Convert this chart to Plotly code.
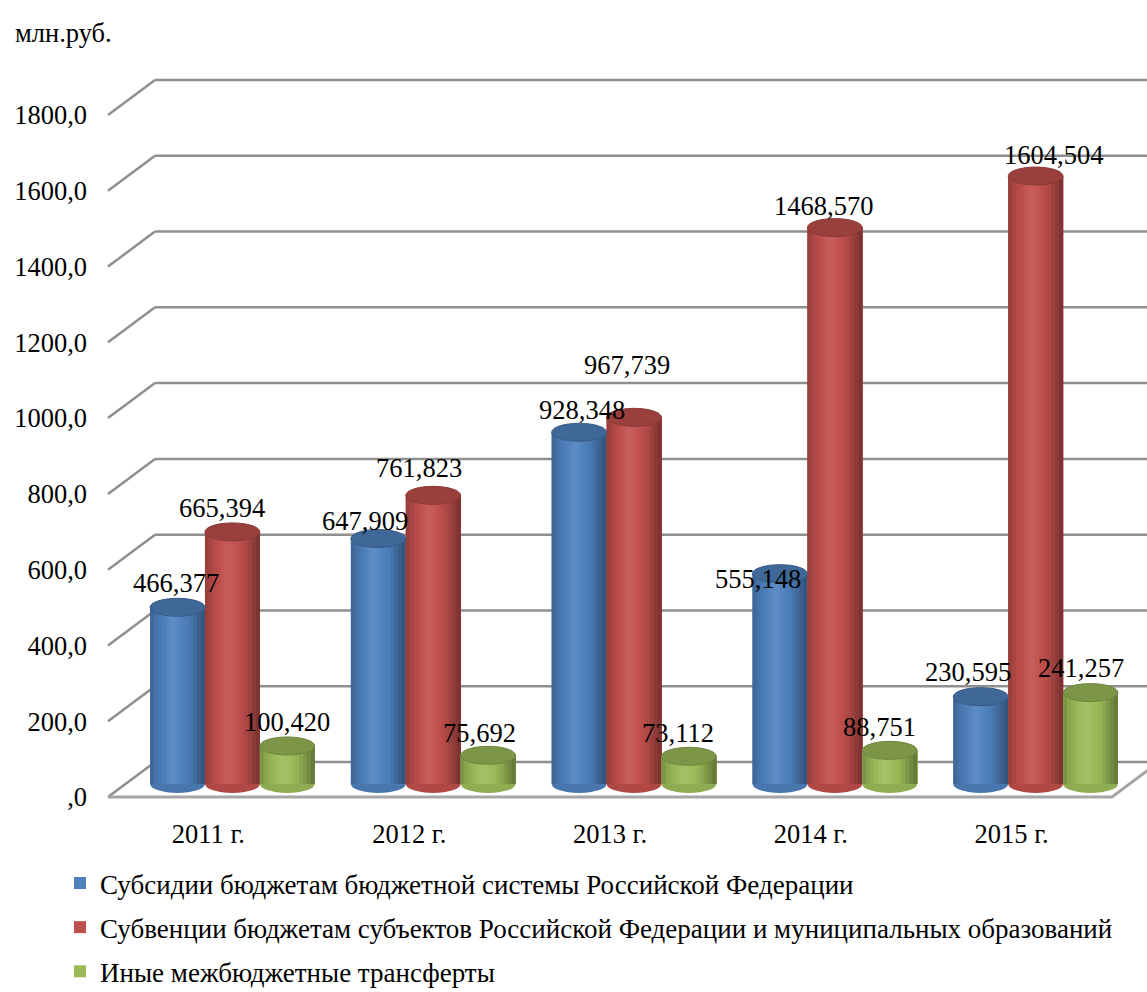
import plotly.graph_objects as go

# ---------------- data ----------------
years = ["2011 г.", "2012 г.", "2013 г.", "2014 г.", "2015 г."]
subsidies = [466.377, 647.909, 928.348, 555.148, 230.595]
subventions = [665.394, 761.823, 967.739, 1468.570, 1604.504]
other_transfers = [100.420, 75.692, 73.112, 88.751, 241.257]
series_names = [
    "Субсидии бюджетам бюджетной системы Российской Федерации",
    "Субвенции бюджетам субъектов Российской Федерации и муниципальных образований",
    "Иные межбюджетные трансферты",
]
y_tick_values = [0, 200, 400, 600, 800, 1000, 1200, 1400, 1600, 1800]
y_tick_labels = [",0", "200,0", "400,0", "600,0", "800,0", "1000,0",
                 "1200,0", "1400,0", "1600,0", "1800,0"]
unit_label = "млн.руб."

# ---------------- styles / geometry ----------------
series_values = [subsidies, subventions, other_transfers]
base_colors = [(79, 129, 189), (192, 80, 77), (155, 187, 89)]
FONT = "Liberation Serif, Times New Roman, serif"
FS = 26.5
FS_LEGEND = 27
W, H = 1147, 992
FRONT_X0, FRONT_X1 = 108, 1112
FRONT_Y0 = 797
PX_PER_UNIT = 682 / 1800
DEPTH_X, DEPTH_Y = 47, 35
BAR_X0, BAR_X1 = 132, 1136
BAR_Y0 = 784
Y_MIN, Y_MAX = -40, 1900
GRID_COLOR = "#8f8f8f"
BAR_GAP = 0.18
N_STRIPS = 14
ELL_H = 9

bar_w = (1 - BAR_GAP) / 3
series_offsets = [-bar_w, 0.0, bar_w]

# label shifts (pixels) per series, per year
label_dx = [[-2, -13, 3, -22, -13], [-10, -14, -7, -11, 18], [0, -9, -11, -10, -9]]
label_dy = [[24, 18, 22, -5, 25], [24, 27, 52, 22, 21], [24, 22, 23, 23, 25]]


def dom(y_zero_px):
    lo = (H - y_zero_px + Y_MIN * PX_PER_UNIT) / H
    hi = (H - y_zero_px + Y_MAX * PX_PER_UNIT) / H
    return [lo, hi]


def shade(rgb, f):
    if f >= 1:
        return "rgb(%d,%d,%d)" % tuple(min(255, int(c + (255 - c) * (f - 1))) for c in rgb)
    return "rgb(%d,%d,%d)" % tuple(int(c * f) for c in rgb)


def profile(t):
    pts = [(0.0, 0.76), (0.12, 0.9), (0.42, 1.1), (0.7, 0.95), (1.0, 0.62)]
    for (t0, f0), (t1, f1) in zip(pts[:-1], pts[1:]):
        if t0 <= t <= t1:
            return f0 + (f1 - f0) * (t - t0) / (t1 - t0)
    return 1.0


fig = go.Figure()

# cylinders: a legend bar per series plus shading strips on top of it
for s, (vals, name, rgb) in enumerate(zip(series_values, series_names, base_colors)):
    fig.add_trace(go.Bar(
        x=years, y=vals, name=name, xaxis="x2", yaxis="y2",
        width=bar_w, offset=series_offsets[s] - bar_w / 2,
        marker=dict(color=shade(rgb, 1.0), line=dict(width=0)),
        legendgroup="g%d" % s, hoverinfo="skip",
    ))
    sw = bar_w / N_STRIPS
    for j in range(N_STRIPS):
        t = (j + 0.5) / N_STRIPS
        # each strip runs to the right edge so that later strips cover it without gaps
        fig.add_trace(go.Bar(
            x=years, y=vals, xaxis="x2", yaxis="y2", showlegend=False,
            width=bar_w - j * sw, offset=series_offsets[s] - bar_w / 2 + j * sw,
            marker=dict(color=shade(rgb, profile(t)), line=dict(width=0)),
            legendgroup="g%d" % s, hoverinfo="skip",
        ))

shapes = []
# back wall grid lines + left diagonal edges (front axis y, pixel depth offsets)
for v in y_tick_values:
    shapes.append(dict(type="line", xref="paper", yref="y", ysizemode="pixel", yanchor=v,
                       x0=(FRONT_X0 + DEPTH_X) / W, x1=1.0, y0=DEPTH_Y, y1=DEPTH_Y,
                       line=dict(color=GRID_COLOR, width=2.5), layer="below"))
    shapes.append(dict(type="line", xref="paper", yref="y", ysizemode="pixel", yanchor=v,
                       x0=FRONT_X0 / W, x1=(FRONT_X0 + DEPTH_X) / W, y0=0, y1=DEPTH_Y,
                       line=dict(color=GRID_COLOR, width=2.5), layer="below"))
# floor front and right edges
shapes.append(dict(type="path", xref="paper", yref="y", ysizemode="pixel", yanchor=0,
                   path="M%f,0 L%f,0 L%f,%d" % (FRONT_X0 / W, FRONT_X1 / W,
                                               (FRONT_X1 + DEPTH_X) / W, DEPTH_Y),
                   line=dict(color="#a6a6a6", width=3), layer="below"))

# cylinder tops and bottoms
for s, (vals, rgb) in enumerate(zip(series_values, base_colors)):
    for i, v in enumerate(vals):
        cx = i + series_offsets[s]
        shapes.append(dict(type="circle", xref="x2", yref="y2", ysizemode="pixel", yanchor=0,
                           x0=cx - bar_w / 2, x1=cx + bar_w / 2, y0=-ELL_H, y1=ELL_H,
                           fillcolor=shade(rgb, 0.92), line=dict(width=0), layer="below"))
        shapes.append(dict(type="circle", xref="x2", yref="y2", ysizemode="pixel", yanchor=v,
                           x0=cx - bar_w / 2, x1=cx + bar_w / 2, y0=-ELL_H, y1=ELL_H,
                           fillcolor=shade(rgb, 0.8), line=dict(color=shade(rgb, 0.72), width=1),
                           layer="above"))

annotations = []
for s, vals in enumerate(series_values):
    for i, v in enumerate(vals):
        annotations.append(dict(
            x=i + series_offsets[s], y=v, xref="x2", yref="y2",
            text=("%.3f" % v).replace(".", ","), showarrow=False,
            xshift=label_dx[s][i], yshift=label_dy[s][i],
            font=dict(family=FONT, size=FS, color="black"),
        ))
annotations.append(dict(x=13 / W, y=1 - 33 / H, xref="paper", yref="paper",
                        xanchor="left", yanchor="middle", text=unit_label, showarrow=False,
                        font=dict(family=FONT, size=FS, color="black")))

fig.update_layout(
    width=W, height=H,
    margin=dict(l=0, r=0, t=0, b=0, autoexpand=False),
    paper_bgcolor="white", plot_bgcolor="rgba(0,0,0,0)",
    barmode="overlay",
    shapes=shapes, annotations=annotations,
    xaxis=dict(domain=[FRONT_X0 / W, FRONT_X1 / W], range=[-0.5, 4.5],
               tickvals=[0, 1, 2, 3, 4], ticktext=years, showgrid=False, zeroline=False,
               showline=False, ticks="", ticklabelstandoff=3, anchor="y",
               automargin=False, tickfont=dict(family=FONT, size=FS, color="black")),
    yaxis=dict(domain=dom(FRONT_Y0), range=[Y_MIN, Y_MAX], tickvals=y_tick_values,
               ticktext=y_tick_labels, showgrid=False, zeroline=False, showline=False,
               ticks="", ticklabelstandoff=20, anchor="x", automargin=False,
               tickfont=dict(family=FONT, size=FS, color="black")),
    xaxis2=dict(domain=[BAR_X0 / W, BAR_X1 / W], range=[-0.5, 4.5], visible=False,
                anchor="y2", type="category"),
    yaxis2=dict(domain=dom(BAR_Y0), range=[Y_MIN, Y_MAX], visible=False, anchor="x2"),
    legend=dict(x=60 / W, y=1 - 859 / H, xanchor="left", yanchor="top",
                orientation="v", tracegroupgap=6, bgcolor="rgba(0,0,0,0)",
                font=dict(family=FONT, size=FS_LEGEND, color="black")),
    showlegend=True,
)

fig.write_html("out.html", config={"displayModeBar": False},
               post_script="document.body.style.margin='0';")
